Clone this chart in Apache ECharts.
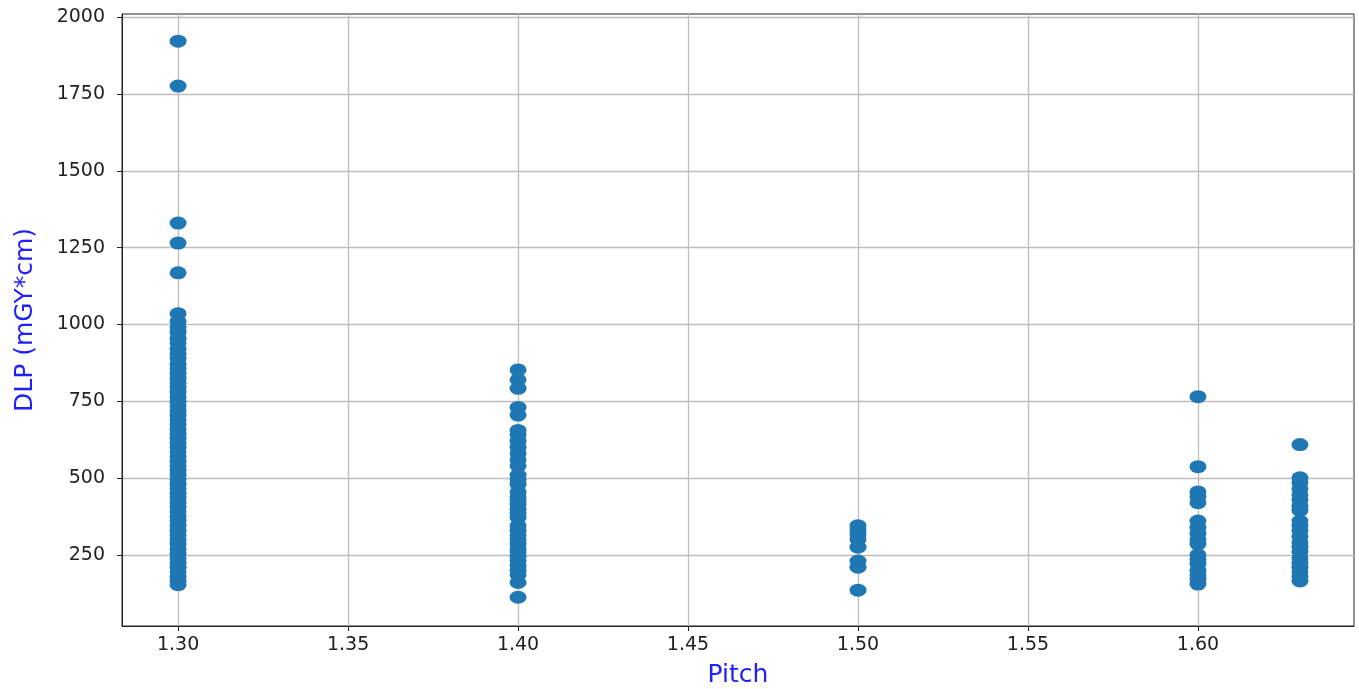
<!DOCTYPE html>
<html>
<head>
<meta charset="utf-8">
<script src="https://cdn.jsdelivr.net/npm/echarts@6/dist/echarts.min.js"></script>
<style>html,body{margin:0;padding:0;background:#fff}#c{width:1359px;height:689px}</style>
</head>
<body>
<div id="c"></div>
<script>
const xTicks = [1.30, 1.35, 1.40, 1.45, 1.50, 1.55, 1.60];
const yTicks = [250, 500, 750, 1000, 1250, 1500, 1750, 2000];
const pitches = [1.30, 1.40, 1.50, 1.60, 1.63];
const dlp130 = [1922, 1776, 1330, 1265, 1168, 1035, 1010, 990, 975, 955, 940, 920, 905, 890, 870, 855, 840, 825, 810, 795, 780, 765, 750, 735, 720, 705, 690, 675, 660, 645, 630, 615, 600, 585, 570, 555, 540, 525, 510, 495, 480, 465, 450, 435, 420, 405, 390, 375, 360, 345, 330, 315, 300, 285, 270, 255, 240, 225, 210, 195, 180, 165, 153];
const dlp140 = [852, 820, 792, 730, 705, 655, 640, 620, 600, 580, 560, 540, 510, 495, 480, 455, 440, 430, 415, 400, 385, 372, 345, 330, 315, 300, 285, 270, 260, 245, 230, 215, 200, 185, 160, 112];
const dlp150 = [345, 335, 325, 315, 300, 275, 230, 210, 135];
const dlp160 = [765, 537, 455, 440, 420, 360, 340, 320, 300, 285, 250, 235, 220, 200, 185, 170, 155];
const dlp163 = [609, 501, 485, 465, 445, 430, 410, 395, 360, 345, 330, 310, 290, 275, 260, 240, 225, 210, 195, 180, 165];
const groups = [dlp130, dlp140, dlp150, dlp160, dlp163];

const points = [];
groups.forEach((g, i) => g.forEach(v => points.push([pitches[i], v])));

const chart = echarts.init(document.getElementById('c'), null, {renderer: 'canvas'});
const tickColor = '#222';
const gridColor = '#bdbdbd';
chart.setOption({
  animation: false,
  grid: {left: 122, right: 5, top: 14, bottom: 63, show: true, borderColor: '#222', borderWidth: 1, containLabel: false, outerBoundsMode: 'none'},
  xAxis: {
    type: 'value', min: 1.2835, max: 1.6459,
    name: 'Pitch', nameLocation: 'middle', nameGap: 37,
    nameTextStyle: {color: '#2020ff', fontSize: 25, fontFamily: 'DejaVu Sans', verticalAlign: 'top'},
    axisLine: {show: true, onZero: false, lineStyle: {color: '#222', width: 1}},
    axisTick: {show: true, length: 5, customValues: xTicks, lineStyle: {color: tickColor}},
    axisLabel: {customValues: xTicks, formatter: v => v.toFixed(2), fontSize: 19, color: '#222', fontFamily: 'DejaVu Sans', margin: 10},
    splitLine: {show: true, lineStyle: {color: gridColor, width: 1.3}}
  },
  yAxis: {
    type: 'value', min: 18.5, max: 2010.5,
    name: 'DLP (mGY*cm)', nameLocation: 'middle', nameGap: 84,
    nameTextStyle: {color: '#2020ff', fontSize: 25, fontFamily: 'DejaVu Sans'},
    axisLine: {show: true, onZero: false, lineStyle: {color: '#222', width: 1}},
    axisTick: {show: true, length: 5, customValues: yTicks, lineStyle: {color: tickColor}},
    axisLabel: {customValues: yTicks, formatter: v => String(v), fontSize: 19, color: '#222', fontFamily: 'DejaVu Sans', margin: 17},
    splitLine: {show: true, lineStyle: {color: gridColor, width: 1.3}}
  },
  series: [{
    type: 'scatter',
    data: points,
    symbol: 'circle',
    symbolSize: [17, 13],
    itemStyle: {color: '#1f77b4', opacity: 1},
    clip: false
  }]
});
</script>
</body>
</html>
